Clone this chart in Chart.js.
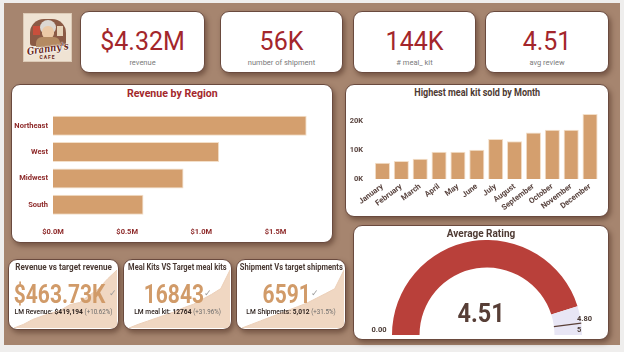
<!DOCTYPE html>
<html><head><meta charset="utf-8">
<script src="https://cdn.jsdelivr.net/npm/chart.js@4.4.1/dist/chart.umd.min.js"></script>
<style>
*{box-sizing:border-box}
html,body{margin:0;padding:0}
body{width:624px;height:352px;overflow:hidden;background:#efeeed;position:relative;font-family:Roboto,"Noto Sans",sans-serif}
#bg{position:absolute;left:4px;top:3px;width:616px;height:342px;background:#a6856f}
.card{position:absolute;background:#fff;border:1.5px solid #6a4a3e;border-radius:9px;box-shadow:2px 3px 5px rgba(70,40,28,.5);overflow:hidden}
.txt{position:absolute;left:0;right:0;display:flex;justify-content:center;align-items:center;white-space:nowrap}
.sx{display:inline-block;transform:scaleX(.86);transform-origin:50% 50%}
canvas{position:absolute;display:block}
#logo{position:absolute;left:23px;top:13px;width:49px;height:49px;background:#efe3d3;border:1px solid #dccab6;overflow:hidden}
</style></head><body>
<div id="bg"></div>
<script>
// ---------- DATA ----------
const kpiValues = ['$4.32M', '56K', '144K', '4.51'];
const kpiLabels = ['revenue', 'number of shipment', '# meal_ kit', 'avg review'];

const regions = ['Northeast', 'West', 'Midwest', 'South'];
const regionRevenue = [1.71, 1.12, 0.88, 0.61]; // $M
const regionTicks = [0, 0.5, 1.0, 1.5];          // $M

const months = ['January','February','March','April','May','June','July','August','September','October','November','December'];
const monthMealKits = [5600, 6200, 7000, 9400, 9400, 10100, 13800, 13000, 16000, 17000, 17000, 22400];
const monthTicks = [0, 10000, 20000];

const cardTitles = ['Revenue vs target revenue', 'Meal Kits VS Target meal kits', 'Shipment Vs target shipments'];
const cardValues = ['$463.73K', '16843', '6591'];
const cardLMLabels = ['LM Revenue: ', 'LM meal kit: ', 'LM Shipments: '];
const cardLMValues = ['$419,194', '12764', '5,012'];
const cardLMChange = ['(+10.62%)', '(+31.96%)', '(+31.5%)'];
const revenueTrend = [172, 190, 215, 232, 248, 262, 290, 300, 335, 368, 419.2, 463.7];
const mealKitTrend = [4100, 4900, 5600, 6300, 7000, 7700, 8600, 9300, 10400, 11500, 12764, 16843];
const shipmentTrend = [1700, 2000, 2300, 2600, 2900, 3200, 3500, 3800, 4200, 4600, 5012, 6591];

const avgRating = 4.51;
const ratingMin = 0;
const ratingMax = 5;
const ratingTarget = 4.80;

// ---------- HELPERS ----------
Chart.defaults.font.family = 'Roboto, "Noto Sans", sans-serif';
function box(x1, y1, x2, y2) {
  const d = document.createElement('div');
  d.className = 'card';
  Object.assign(d.style, {left: x1 + 'px', top: y1 + 'px', width: (x2 - x1) + 'px', height: (y2 - y1) + 'px'});
  document.body.appendChild(d);
  return d;
}
function text(parent, html, cy, size, color, weight) {
  const t = document.createElement('div');
  t.className = 'txt';
  t.innerHTML = html;
  const lh = size * 1.2;
  Object.assign(t.style, {top: (cy - lh / 2) + 'px', height: lh + 'px', lineHeight: lh + 'px',
    fontSize: size + 'px', color: color, fontWeight: weight || 400});
  parent.appendChild(t);
  return t;
}
function canvas(parent, x, y, w, h) {
  const c = document.createElement('canvas');
  c.width = w; c.height = h;
  Object.assign(c.style, {left: x + 'px', top: y + 'px', width: w + 'px', height: h + 'px'});
  parent.appendChild(c);
  return c;
}
function fixedTicks(list) {
  return s => { s.ticks = list.map(v => ({value: v})); };
}

// ---------- LOGO ----------
const logo = document.createElement('div');
logo.id = 'logo';
logo.innerHTML =
  '<div style="position:absolute;left:6px;top:5px;width:36px;height:27px;background:#8b5a45;border-radius:14px 14px 3px 3px"></div>' +
  '<div style="position:absolute;left:9px;top:12px;width:7px;height:9px;background:#c94f3c"></div>' +
  '<div style="position:absolute;left:33px;top:12px;width:6px;height:10px;background:#e6d2b8"></div>' +
  '<div style="position:absolute;left:16px;top:6px;width:16px;height:15px;background:#dcd7d2;border-radius:50%"></div>' +
  '<div style="position:absolute;left:18px;top:12px;width:12px;height:13px;background:#ecc9a6;border-radius:45%"></div>' +
  '<div style="position:absolute;left:12px;top:23px;width:24px;height:10px;background:#b48a62;border-radius:6px 6px 0 0"></div>' +
  '<div style="position:absolute;left:-10px;right:-10px;top:29px;display:flex;justify-content:center"><span style="display:inline-block;transform:rotate(-8deg) scaleX(.85);font:italic bold 10px \'DejaVu Serif\',serif;color:#6b2a1e;text-shadow:0 0 2px #fff,0 0 2px #fff,0 0 1px #fff">Granny\'s</span></div>' +
  '<div style="position:absolute;left:0;right:0;top:40px;text-align:center;font:bold 5px Roboto;color:#6b2a1e;letter-spacing:1px">CAFE</div>';
document.body.appendChild(logo);

// ---------- TOP KPI CARDS ----------
const kpiBoxes = [[80, 11, 205, 73], [220, 11, 343, 73], [353, 11, 476, 73], [485, 11, 609, 73]];
kpiBoxes.forEach((b, i) => {
  const c = box(...b);
  text(c, kpiValues[i], 29.5, 25, '#a3262b', 400);
  text(c, kpiLabels[i], 50, 7.5, '#7a7a7a', 400);
});

// ---------- REVENUE BY REGION ----------
const regCard = box(11, 84, 333, 243);
text(regCard, '<span class="sx" style="transform:scaleX(.92)">Revenue by Region</span>', 9, 11.5, '#a3282c', 700);
new Chart(canvas(document.body, 11, 103, 322, 139), {
  type: 'bar',
  data: {labels: regions, datasets: [{data: regionRevenue, backgroundColor: '#d49f6e', borderColor: '#f3dfc9', borderWidth: 1,
    barPercentage: 0.76, categoryPercentage: 1}]},
  options: {
    indexAxis: 'y', responsive: false, animation: false,
    layout: {padding: {top: 0, right: 13, bottom: 0, left: 0}},
    plugins: {legend: {display: false}, tooltip: {enabled: false}},
    scales: {
      x: {min: 0, max: 1.8, grid: {display: false, drawTicks: false}, border: {display: false},
        ticks: {padding: 10, color: '#8e2a2a', font: {size: 7.5, weight: 'bold'},
          callback: v => '$' + Number(v).toFixed(1) + 'M'},
        afterBuildTicks: fixedTicks(regionTicks),
        afterFit: s => { s.height = 24; }},
      y: {grid: {display: false, drawTicks: false}, border: {display: false},
        ticks: {padding: 5, color: '#8e2a2a', font: {size: 7.5, weight: 'bold'}},
        afterFit: s => { s.width = 42; }}
    }
  }
});

// ---------- MEAL KITS BY MONTH ----------
const monCard = box(345, 84, 609, 217);
text(monCard, '<span class="sx">Highest meal kit sold by Month</span>', 8, 10.5, '#4e3a33', 700);
new Chart(canvas(document.body, 345, 92, 264, 120), {
  type: 'bar',
  data: {labels: months, datasets: [{data: monthMealKits, backgroundColor: '#d49f6e', borderColor: '#f3dfc9', borderWidth: 1,
    barPercentage: 0.8, categoryPercentage: 1}]},
  options: {
    responsive: false, animation: false,
    layout: {padding: {top: 0, right: 9.5, bottom: 0, left: 0}},
    plugins: {legend: {display: false}, tooltip: {enabled: false}},
    scales: {
      x: {grid: {display: false, drawTicks: false}, border: {display: false},
        ticks: {autoSkip: false, minRotation: 37, maxRotation: 37, padding: 3, color: '#5a4540', font: {size: 7.8, weight: 'bold'}},
        afterFit: s => { s.height = 33; }},
      y: {min: 0, max: 25000, grid: {display: false, drawTicks: false}, border: {display: false},
        ticks: {autoSkip: false, padding: 10, color: '#5a4540', font: {size: 7.5, weight: 'bold'},
          callback: v => (v / 1000) + 'K'},
        afterBuildTicks: fixedTicks(monthTicks),
        afterFit: s => { s.width = 28; }}
    }
  }
});

// ---------- SMALL KPI CARDS ----------
const smallBoxes = [[8, 259, 119, 330], [123, 259, 232, 330], [236, 259, 346, 330]];
const trends = [revenueTrend, mealKitTrend, shipmentTrend];
const titleScale = [0.9, 0.83, 0.84];
smallBoxes.forEach((b, i) => {
  const c = box(...b);
  const w = b[2] - b[0], h = b[3] - b[1];
  const tr = trends[i];
  new Chart(canvas(c, 5, 10, w - 8, h - 13), {
    type: 'line',
    data: {labels: tr.map((_, k) => k), datasets: [{data: tr, fill: 'start', backgroundColor: '#f0d7c2', borderColor: '#ecd0b9',
      borderWidth: 1, pointRadius: 0, tension: 0}]},
    options: {responsive: false, animation: false, layout: {padding: 0},
      plugins: {legend: {display: false}, tooltip: {enabled: false}},
      scales: {x: {display: false}, y: {display: false, min: Math.min(...tr), max: Math.max(...tr)}}}
  });
  text(c, '<span class="sx" style="transform:scaleX(' + titleScale[i] + ')">' + cardTitles[i] + '</span>', 7, 9, '#4a3a34', 700);
  text(c, '<span class="sx" style="transform:scaleX(.84);margin:0 -5px">' + cardValues[i] + '</span><span style="font-size:9px;color:#9a9a9a;font-weight:400;margin-top:-4px">&#10003;</span>',
    35, 25, '#d19b69', 700);
  text(c, '<span class="sx" style="transform:scaleX(.95)"><span style="font-weight:500">' + cardLMLabels[i] + '</span><b>' + cardLMValues[i] + '</b> <span style="color:#6a6a6a;font-size:6.5px">' + cardLMChange[i] + '</span></span>',
    52, 7, '#2f2420', 400);
});

// ---------- AVERAGE RATING GAUGE ----------
const gCard = box(353, 225, 609, 340);
text(gCard, 'Average Rating', 8, 10, '#4e3a33', 700);
const targetLine = {
  id: 'targetLine',
  afterDatasetsDraw(chart) {
    const arc = chart.getDatasetMeta(0).data[0];
    const p = arc.getProps(['x', 'y', 'innerRadius', 'outerRadius'], true);
    const a = -Math.PI + Math.PI * (ratingTarget - ratingMin) / (ratingMax - ratingMin);
    const ctx = chart.ctx;
    ctx.save();
    ctx.strokeStyle = '#5a4038'; ctx.lineWidth = 1.2;
    ctx.beginPath();
    ctx.moveTo(p.x + Math.cos(a) * p.innerRadius, p.y + Math.sin(a) * p.innerRadius);
    ctx.lineTo(p.x + Math.cos(a) * p.outerRadius, p.y + Math.sin(a) * p.outerRadius);
    ctx.stroke();
    ctx.restore();
  }
};
new Chart(canvas(document.body, 392, 240, 190, 95), {
  type: 'doughnut',
  data: {labels: ['value', 'rest'], datasets: [{data: [avgRating - ratingMin, ratingMax - avgRating],
    backgroundColor: ['#b9403a', '#e8e6f5'], borderWidth: 0}]},
  options: {responsive: false, animation: false, rotation: -90, circumference: 180, cutout: '71%',
    layout: {padding: 0}, plugins: {legend: {display: false}, tooltip: {enabled: false}}},
  plugins: [targetLine]
});
function absText(html, x, cy, size, color, weight, align) {
  const t = document.createElement('div');
  t.innerHTML = html;
  const lh = size * 1.2;
  Object.assign(t.style, {position: 'absolute', top: (cy - lh / 2) + 'px', height: lh + 'px', lineHeight: lh + 'px', fontSize: size + 'px',
    color: color, fontWeight: weight, whiteSpace: 'nowrap'});
  if (align === 'center') { t.style.left = (x - 100) + 'px'; t.style.width = '200px'; t.style.textAlign = 'center'; }
  else t.style.left = x + 'px';
  document.body.appendChild(t);
}
absText('<span class="sx" style="transform:scaleX(.9)">' + avgRating.toFixed(2) + '</span>', 481, 314, 26, '#573e36', 700, 'center');
absText(ratingMin.toFixed(2), 379, 329, 7.5, '#4a3a34', 700, 'center');
absText(ratingTarget.toFixed(2), 577, 318, 7.5, '#4a3a34', 700, 'left');
absText(String(ratingMax), 577, 329, 7.5, '#4a3a34', 700, 'left');
</script>
</body></html>
